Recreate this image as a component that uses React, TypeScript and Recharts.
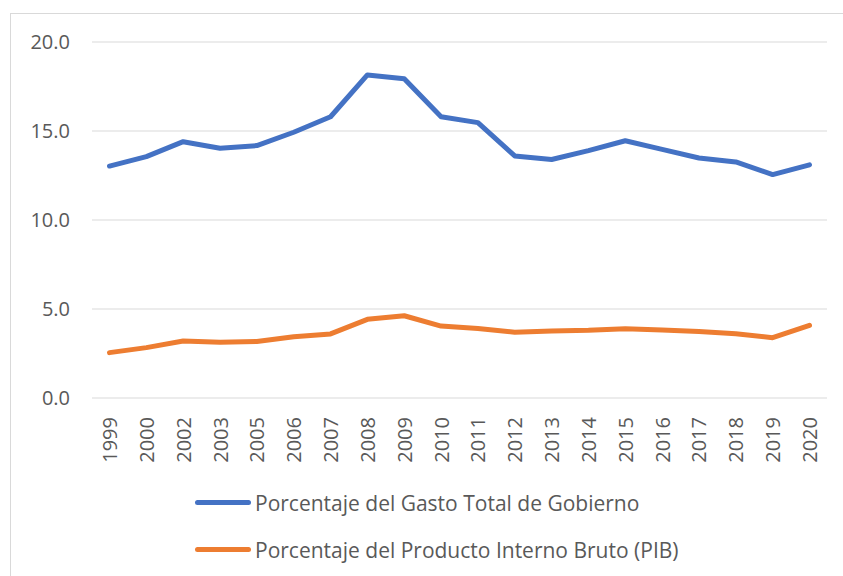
import { CartesianGrid, Line, LineChart, XAxis, YAxis } from "recharts";

const years = [
	"1999", "2000", "2002", "2003", "2005", "2006", "2007", "2008", "2009", "2010", "2011",
	"2012", "2013", "2014", "2015", "2016", "2017", "2018", "2019", "2020",
];

const gastoTotal = [
	13.03, 13.56, 14.4, 14.03, 14.18, 14.93, 15.8, 18.15, 17.94, 15.8, 15.47,
	13.6, 13.4, 13.9, 14.45, 13.97, 13.48, 13.26, 12.55, 13.1,
];

const pib = [
	2.55, 2.83, 3.2, 3.13, 3.18, 3.44, 3.6, 4.42, 4.62, 4.04, 3.91,
	3.7, 3.76, 3.8, 3.89, 3.82, 3.73, 3.61, 3.39, 4.08,
];

const yTicks = [0, 5, 10, 15, 20];

const series = [
	{ key: "gasto", name: "Porcentaje del Gasto Total de Gobierno", color: "#4472C4" },
	{ key: "pib", name: "Porcentaje del Producto Interno Bruto (PIB)", color: "#ED7D31" },
];

const data = years.map((year, i) => ({ year, gasto: gastoTotal[i], pib: pib[i] }));

const FONT = "'Open Sans', sans-serif";
const TEXT = "#595959";

function YearTick({ x, y, payload }: any) {
	const ty = y + 11;
	return (
		<text
			x={x}
			y={ty}
			transform={`rotate(-90, ${x}, ${ty})`}
			textAnchor="end"
			dominantBaseline="central"
			fill={TEXT}
			fontSize={20}
			fontFamily={FONT}
		>
			{payload.value}
		</text>
	);
}

function ChartLegend() {
	return (
		<div
			style={{
				position: "absolute",
				left: 195,
				top: 479,
				fontFamily: FONT,
				fontSize: 21,
				color: TEXT,
			}}
		>
			{series.map((s) => (
				<div key={s.key} style={{ display: "flex", alignItems: "center", height: 47 }}>
					<span
						style={{
							display: "inline-block",
							width: 56,
							height: 5,
							borderRadius: 3,
							background: s.color,
							marginRight: 4,
						}}
					/>
					<span>{s.name}</span>
				</div>
			))}
		</div>
	);
}

export default function App() {
	return (
		<div
			style={{
				position: "absolute",
				left: 0,
				top: 0,
				width: 843,
				height: 576,
				overflow: "hidden",
				background: "#fff",
			}}
		>
			<div
				style={{
					position: "absolute",
					left: 10,
					top: 13,
					width: 900,
					height: 700,
					border: "1px solid #d9d9d9",
				}}
			/>
			<div style={{ position: "absolute", left: 0, top: 0 }}>
				<LineChart
					width={843}
					height={576}
					data={data}
					margin={{ top: 42, right: 16, left: 32, bottom: 128 }}
				>
					<CartesianGrid vertical={false} stroke="#d9d9d9" strokeWidth={1} />
					<XAxis
						dataKey="year"
						axisLine={false}
						tickLine={false}
						interval={0}
						height={50}
						padding={{ left: 17.5, right: 17.5 }}
						tick={<YearTick />}
					/>
					<YAxis
						domain={[0, 20]}
						ticks={yTicks}
						width={60}
						axisLine={false}
						tickLine={false}
						tickMargin={16}
						tickFormatter={(v: number) => v.toFixed(1)}
						tick={{ fill: TEXT, fontSize: 20, fontFamily: FONT }}
					/>
					{series.map((s) => (
						<Line
							key={s.key}
							type="linear"
							dataKey={s.key}
							name={s.name}
							stroke={s.color}
							strokeWidth={5}
							strokeLinejoin="round"
							strokeLinecap="round"
							dot={false}
							activeDot={false}
							isAnimationActive={false}
						/>
					))}
				</LineChart>
			</div>
			<ChartLegend />
		</div>
	);
}
